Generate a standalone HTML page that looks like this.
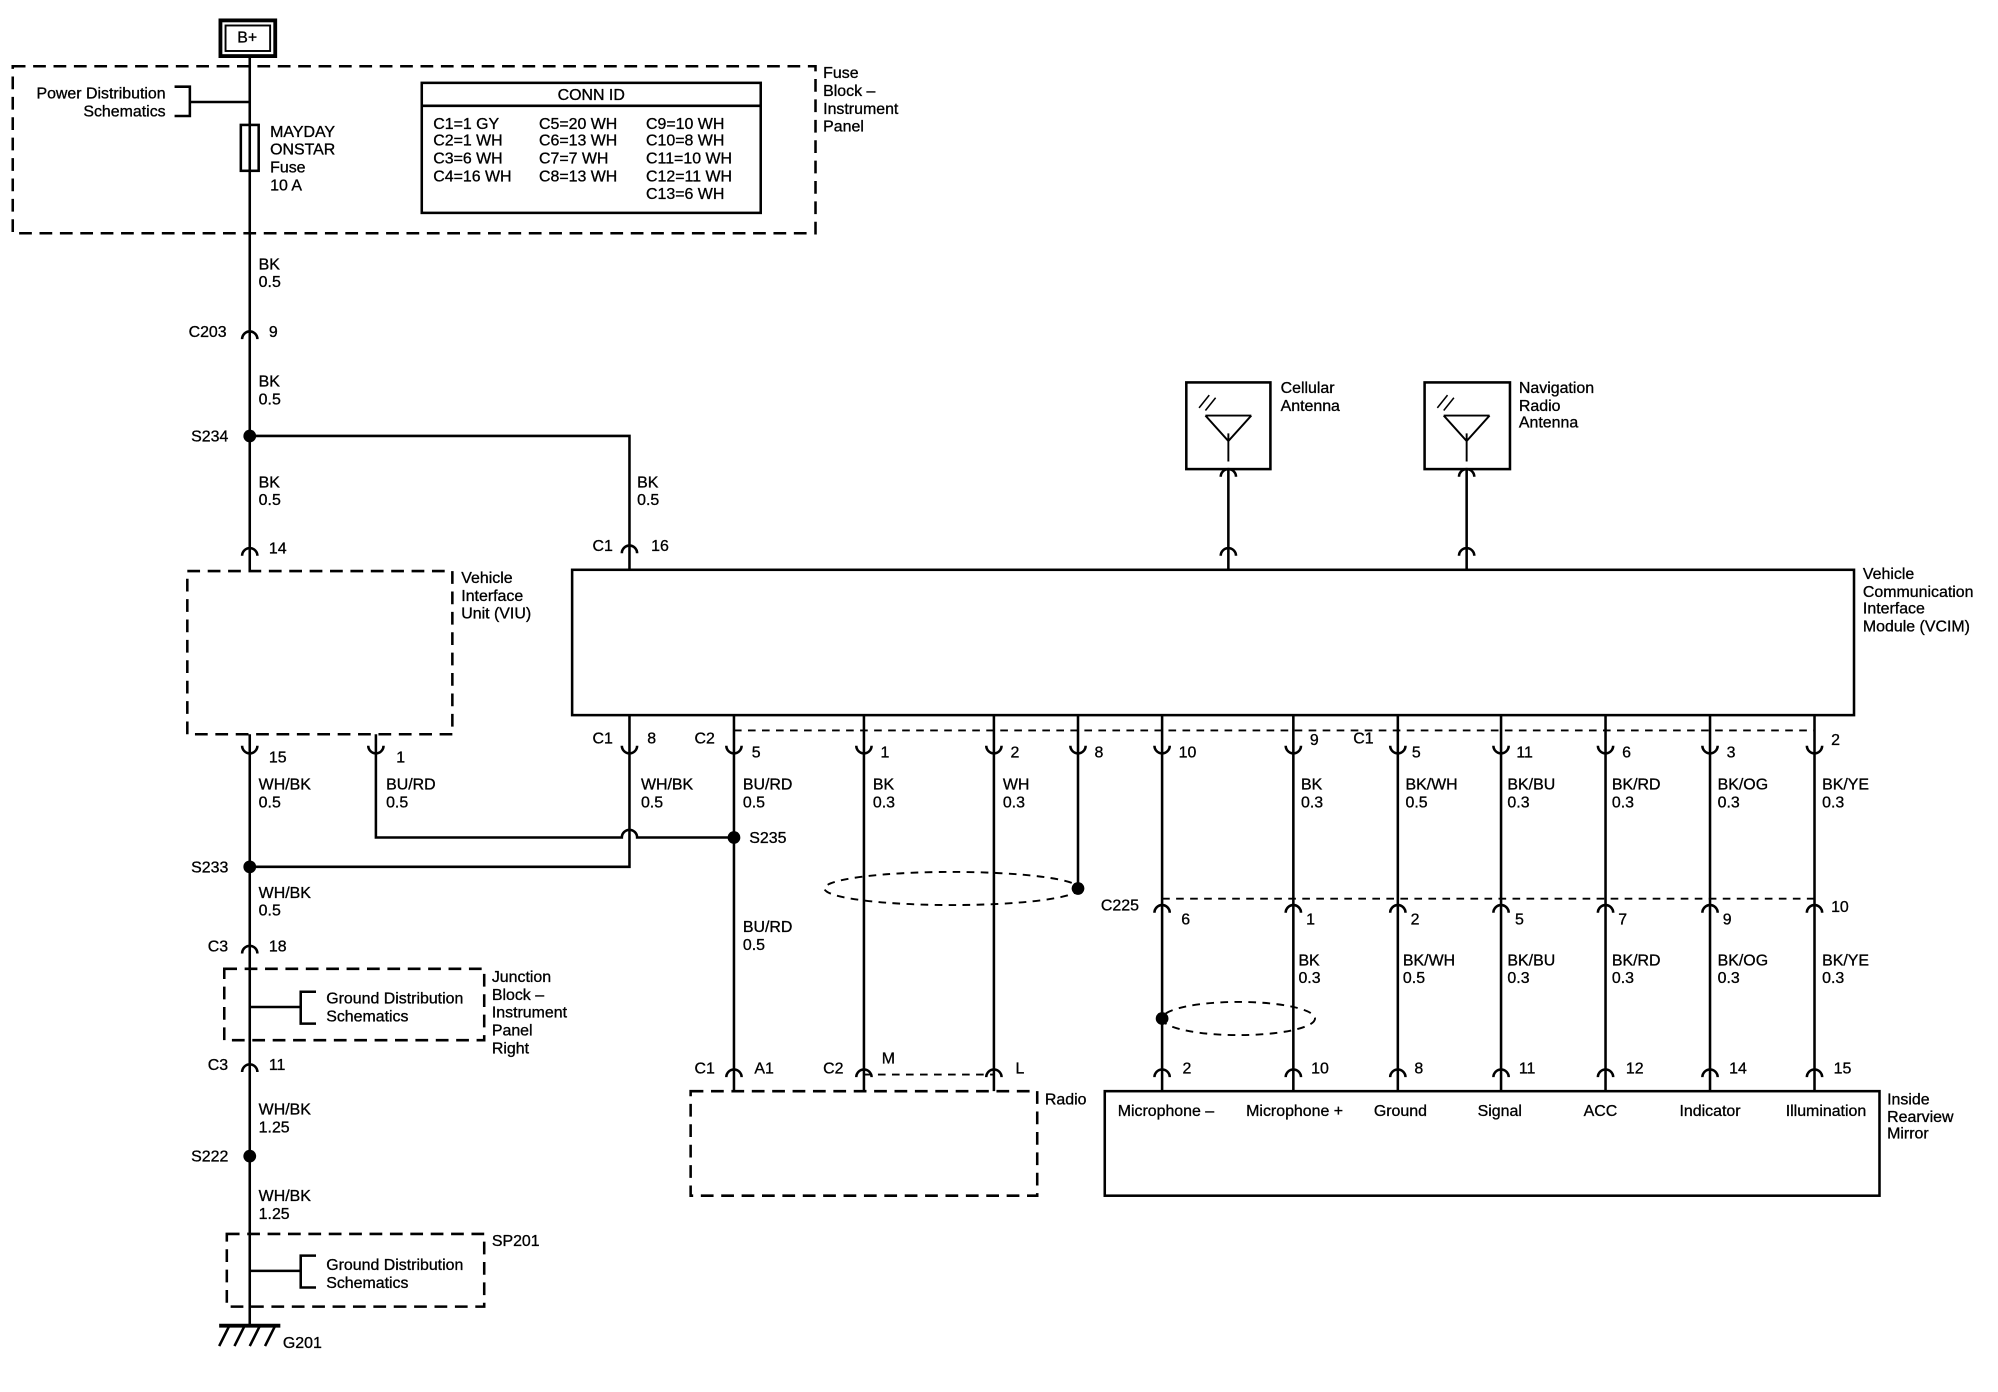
<!DOCTYPE html>
<html><head><meta charset="utf-8"><style>
html,body{margin:0;padding:0;background:#fff}
svg{display:block}
text{font-family:"Liberation Sans",Arial,sans-serif;font-size:12.5px;fill:#000;stroke:#000;stroke-width:0.25;dominant-baseline:middle}
</style></head><body>
<svg width="1998" height="1392" viewBox="0 0 1568 1092" preserveAspectRatio="none" xmlns="http://www.w3.org/2000/svg">
<rect width="1568" height="1092" fill="#fff"/>
<g fill="none" stroke="#000" stroke-width="2">
<rect x="173" y="16" width="43" height="28" stroke-width="3"/>
<rect x="177" y="20" width="35" height="20" stroke-width="1.5"/>
<rect x="10" y="52" width="630" height="131" stroke-dasharray="10,6"/>
<path d="M137,68 H149 V91 H137 M149,80 H196"/>
<rect x="189" y="98" width="14" height="36"/>
<rect x="331" y="65" width="266" height="102"/>
<line x1="331" y1="83" x2="597" y2="83"/>
<path d="M196,44 V448 M196,576 V1040"/>
<path d="M196,342 H494 V447"/>
<rect x="147" y="448" width="208" height="128" stroke-dasharray="10,6"/>
<rect x="449" y="447" width="1006" height="114"/>
<rect x="931" y="300" width="66" height="68"/>
<rect x="1118" y="300" width="67" height="68"/>
<path d="M964,368 V447 M1151,368 V447"/>
<path d="M964,362 V340 M946,326 L964,346 L982,326 M946,326 H982" stroke-width="1.5"/>
<path d="M1151,362 V340 M1133,326 L1151,346 L1169,326 M1133,326 H1169" stroke-width="1.5"/>
<path d="M941,320 L949,310 M946,322 L954,312 M1128,320 L1136,310 M1133,322 L1141,312" stroke-width="1.2"/>
<path d="M295,576 V657 H488 A6,6 0 0 1 500,657 H576"/>
<path d="M494,561 V680 H196"/>
<path d="M576,561 V856 M678,561 V856 M780,561 V856 M846,561 V697 M912,561 V856 M1015,561 V856 M1097,561 V856 M1178,561 V856 M1260,561 V856 M1342,561 V856 M1424,561 V856"/>
<path d="M576,573 H1424" stroke-dasharray="6,5" stroke-width="1.5"/>
<path d="M912,705 H1424" stroke-dasharray="6,5" stroke-width="1.5"/>
<path d="M678,843 H780" stroke-dasharray="6,5" stroke-width="1.5"/>
<ellipse cx="747" cy="697" rx="100" ry="13" stroke-dasharray="6,5" stroke-width="1.5"/>
<ellipse cx="972" cy="799" rx="60" ry="13" stroke-dasharray="6,5" stroke-width="1.5"/>
<rect x="542" y="856" width="272" height="82" stroke-dasharray="10,6"/>
<rect x="867" y="856" width="608" height="82"/>
<rect x="176" y="760" width="204" height="56" stroke-dasharray="10,6"/>
<path d="M196,790 H236 M248,778 H236 V803 H248"/>
<rect x="178" y="968" width="202" height="57" stroke-dasharray="10,6"/>
<path d="M196,997 H236 M248,985 H236 V1010 H248"/>
<path d="M172,1040 H220" stroke-width="3"/>
<path d="M180,1040 L172,1056 M192,1040 L184,1056 M204,1040 L196,1056 M216,1040 L208,1056" stroke-width="2"/>
<g stroke-width="2">
<path d="M190,266 A6,6 0 0 1 202,266"/>
<path d="M190,436 A6,6 0 0 1 202,436"/>
<path d="M488,434 A6,6 0 0 1 500,434"/>
<path d="M958,436 A6,6 0 0 1 970,436"/>
<path d="M1145,436 A6,6 0 0 1 1157,436"/>
<path d="M958,374 A6,6 0 0 1 970,374"/>
<path d="M1145,374 A6,6 0 0 1 1157,374"/>
<path d="M190,585 A6,6 0 0 0 202,585 M289,585 A6,6 0 0 0 301,585 M488,585 A6,6 0 0 0 500,585 M570,585 A6,6 0 0 0 582,585 M672,585 A6,6 0 0 0 684,585 M774,585 A6,6 0 0 0 786,585 M840,585 A6,6 0 0 0 852,585 M906,585 A6,6 0 0 0 918,585 M1009,585 A6,6 0 0 0 1021,585 M1091,585 A6,6 0 0 0 1103,585 M1172,585 A6,6 0 0 0 1184,585 M1254,585 A6,6 0 0 0 1266,585 M1336,585 A6,6 0 0 0 1348,585 M1418,585 A6,6 0 0 0 1430,585"/>
<path d="M906,716 A6,6 0 0 1 918,716 M1009,716 A6,6 0 0 1 1021,716 M1091,716 A6,6 0 0 1 1103,716 M1172,716 A6,6 0 0 1 1184,716 M1254,716 A6,6 0 0 1 1266,716 M1336,716 A6,6 0 0 1 1348,716 M1418,716 A6,6 0 0 1 1430,716"/>
<path d="M570,845 A6,6 0 0 1 582,845 M672,845 A6,6 0 0 1 684,845 M774,845 A6,6 0 0 1 786,845 M906,845 A6,6 0 0 1 918,845 M1009,845 A6,6 0 0 1 1021,845 M1091,845 A6,6 0 0 1 1103,845 M1172,845 A6,6 0 0 1 1184,845 M1254,845 A6,6 0 0 1 1266,845 M1336,845 A6,6 0 0 1 1348,845 M1418,845 A6,6 0 0 1 1430,845"/>
<path d="M190,748 A6,6 0 0 1 202,748 M190,841 A6,6 0 0 1 202,841"/>
</g>
</g>
<g fill="#000">
<circle cx="196" cy="342" r="5"/><circle cx="196" cy="680" r="5"/><circle cx="576" cy="657" r="5"/>
<circle cx="196" cy="907" r="5"/><circle cx="846" cy="697" r="5"/><circle cx="912" cy="799" r="5"/>
</g>
<text x="194" y="30" text-anchor="middle">B+</text>
<text x="130" y="74" text-anchor="end">Power Distribution</text>
<text x="130" y="88" text-anchor="end">Schematics</text>
<text x="212" y="104">MAYDAY</text><text x="212" y="118">ONSTAR</text><text x="212" y="132">Fuse</text><text x="212" y="146">10 A</text>
<text x="646" y="58">Fuse</text><text x="646" y="72">Block –</text><text x="646" y="86">Instrument</text><text x="646" y="100">Panel</text>
<text x="464" y="75" text-anchor="middle">CONN ID</text>
<text x="340" y="98">C1=1 GY</text><text x="340" y="111">C2=1 WH</text><text x="340" y="125">C3=6 WH</text><text x="340" y="139">C4=16 WH</text>
<text x="423" y="98">C5=20 WH</text><text x="423" y="111">C6=13 WH</text><text x="423" y="125">C7=7 WH</text><text x="423" y="139">C8=13 WH</text>
<text x="507" y="98">C9=10 WH</text><text x="507" y="111">C10=8 WH</text><text x="507" y="125">C11=10 WH</text><text x="507" y="139">C12=11 WH</text><text x="507" y="153">C13=6 WH</text>
<text x="203" y="208">BK</text><text x="203" y="222">0.5</text>
<text x="148" y="261">C203</text><text x="211" y="261">9</text>
<text x="203" y="300">BK</text><text x="203" y="314">0.5</text>
<text x="150" y="343">S234</text>
<text x="203" y="379">BK</text><text x="203" y="393">0.5</text>
<text x="500" y="379">BK</text><text x="500" y="393">0.5</text>
<text x="211" y="431">14</text><text x="465" y="429">C1</text><text x="511" y="429">16</text>
<text x="1005" y="305">Cellular</text><text x="1005" y="319">Antenna</text>
<text x="1192" y="305">Navigation</text><text x="1192" y="319">Radio</text><text x="1192" y="332">Antenna</text>
<text x="362" y="454">Vehicle</text><text x="362" y="468">Interface</text><text x="362" y="482">Unit (VIU)</text>
<text x="1462" y="451">Vehicle</text><text x="1462" y="465">Communication</text><text x="1462" y="478">Interface</text><text x="1462" y="492">Module (VCIM)</text>
<text x="211" y="595">15</text><text x="311" y="595">1</text>
<text x="465" y="580">C1</text><text x="508" y="580">8</text><text x="545" y="580">C2</text><text x="590" y="591">5</text>
<text x="691" y="591">1</text><text x="793" y="591">2</text><text x="859" y="591">8</text><text x="925" y="591">10</text><text x="1028" y="581">9</text>
<text x="1062" y="580">C1</text><text x="1108" y="591">5</text><text x="1190" y="591">11</text><text x="1273" y="591">6</text><text x="1355" y="591">3</text><text x="1437" y="581">2</text>
<text x="203" y="616">WH/BK</text><text x="203" y="630">0.5</text>
<text x="303" y="616">BU/RD</text><text x="303" y="630">0.5</text>
<text x="503" y="616">WH/BK</text><text x="503" y="630">0.5</text>
<text x="583" y="616">BU/RD</text><text x="583" y="630">0.5</text>
<text x="685" y="616">BK</text><text x="685" y="630">0.3</text>
<text x="787" y="616">WH</text><text x="787" y="630">0.3</text>
<text x="1021" y="616">BK</text><text x="1021" y="630">0.3</text>
<text x="1103" y="616">BK/WH</text><text x="1103" y="630">0.5</text>
<text x="1183" y="616">BK/BU</text><text x="1183" y="630">0.3</text>
<text x="1265" y="616">BK/RD</text><text x="1265" y="630">0.3</text>
<text x="1348" y="616">BK/OG</text><text x="1348" y="630">0.3</text>
<text x="1430" y="616">BK/YE</text><text x="1430" y="630">0.3</text>
<text x="588" y="658">S235</text>
<text x="150" y="681">S233</text>
<text x="203" y="701">WH/BK</text><text x="203" y="715">0.5</text>
<text x="864" y="711">C225</text><text x="927" y="722">6</text><text x="1025" y="722">1</text><text x="1107" y="722">2</text><text x="1189" y="722">5</text><text x="1270" y="722">7</text><text x="1352" y="722">9</text><text x="1437" y="712">10</text>
<text x="583" y="728">BU/RD</text><text x="583" y="742">0.5</text>
<text x="163" y="743">C3</text><text x="211" y="743">18</text>
<text x="1019" y="754">BK</text><text x="1019" y="768">0.3</text>
<text x="1101" y="754">BK/WH</text><text x="1101" y="768">0.5</text>
<text x="1183" y="754">BK/BU</text><text x="1183" y="768">0.3</text>
<text x="1265" y="754">BK/RD</text><text x="1265" y="768">0.3</text>
<text x="1348" y="754">BK/OG</text><text x="1348" y="768">0.3</text>
<text x="1430" y="754">BK/YE</text><text x="1430" y="768">0.3</text>
<text x="256" y="784">Ground Distribution</text><text x="256" y="798">Schematics</text>
<text x="386" y="767">Junction</text><text x="386" y="781">Block –</text><text x="386" y="795">Instrument</text><text x="386" y="809">Panel</text><text x="386" y="823">Right</text>
<text x="163" y="836">C3</text><text x="211" y="836">11</text>
<text x="545" y="839">C1</text><text x="592" y="839">A1</text><text x="646" y="839">C2</text><text x="692" y="831">M</text><text x="797" y="839">L</text>
<text x="928" y="839">2</text><text x="1029" y="839">10</text><text x="1110" y="839">8</text><text x="1192" y="839">11</text><text x="1276" y="839">12</text><text x="1357" y="839">14</text><text x="1439" y="839">15</text>
<text x="820" y="863">Radio</text>
<text x="1481" y="863">Inside</text><text x="1481" y="877">Rearview</text><text x="1481" y="890">Mirror</text>
<text x="915" y="872" text-anchor="middle">Microphone –</text>
<text x="1016" y="872" text-anchor="middle">Microphone +</text>
<text x="1099" y="872" text-anchor="middle">Ground</text>
<text x="1177" y="872" text-anchor="middle">Signal</text>
<text x="1256" y="872" text-anchor="middle">ACC</text>
<text x="1342" y="872" text-anchor="middle">Indicator</text>
<text x="1433" y="872" text-anchor="middle">Illumination</text>
<text x="203" y="871">WH/BK</text><text x="203" y="885">1.25</text>
<text x="150" y="908">S222</text>
<text x="203" y="939">WH/BK</text><text x="203" y="953">1.25</text>
<text x="386" y="974">SP201</text>
<text x="256" y="993">Ground Distribution</text><text x="256" y="1007">Schematics</text>
<text x="222" y="1054">G201</text>
</svg>
</body></html>
